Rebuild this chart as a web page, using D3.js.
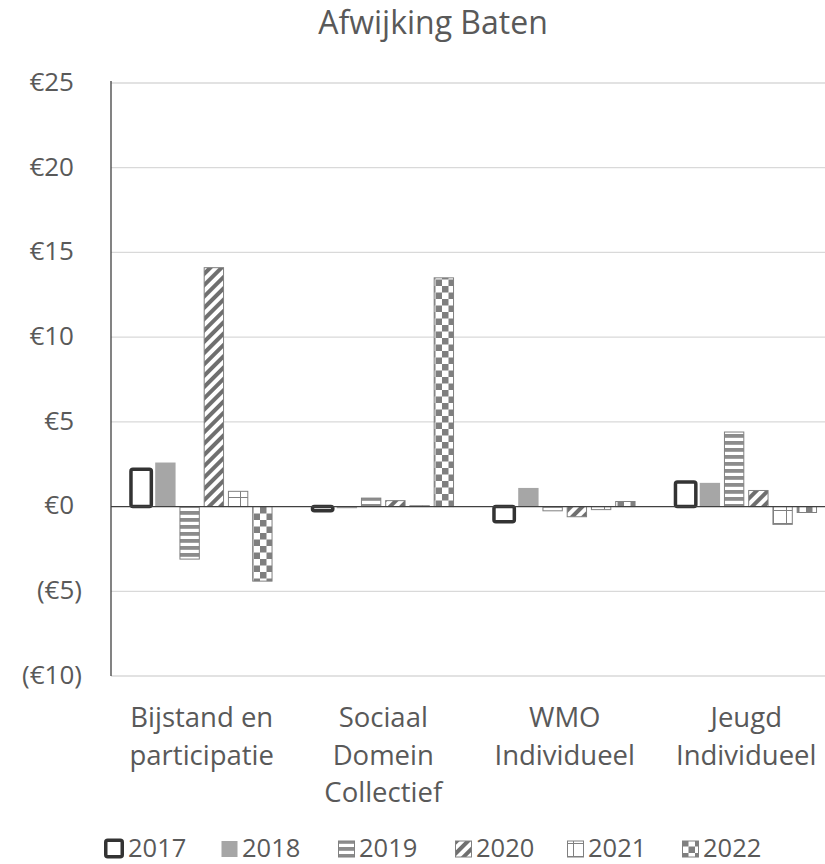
<!DOCTYPE html>
<html><head><meta charset="utf-8">
<script src="https://cdn.jsdelivr.net/npm/d3@7"></script>
<style>body{margin:0;background:#fff}svg{display:block;font-family:"Open Sans",sans-serif}</style>
</head><body>
<script>
const categories = [["Bijstand en","participatie"],["Sociaal","Domein","Collectief"],["WMO","Individueel"],["Jeugd","Individueel"]];
const series = ["2017","2018","2019","2020","2021","2022"];
const v2017 = [2.2, -0.25, -0.9, 1.45];
const v2018 = [2.6, -0.1, 1.1, 1.4];
const v2019 = [-3.1, 0.5, -0.25, 4.4];
const v2020 = [14.1, 0.35, -0.6, 0.95];
const v2021 = [0.9, 0.05, -0.18, -1.05];
const v2022 = [-4.4, 13.5, 0.3, -0.35];
const yTicks = [-10,-5,0,5,10,15,20,25];
const title = "Afwijking Baten";

(function(){
const values = [v2017,v2018,v2019,v2020,v2021,v2022];
const W=825,H=864;
const svg=d3.select("body").append("svg").attr("width",W).attr("height",H);
const defs=svg.append("defs");
let p=defs.append("pattern").attr("id","p2019").attr("patternUnits","userSpaceOnUse").attr("width",7).attr("height",7);
p.append("rect").attr("width",7).attr("height",7).attr("fill","#fff");
p.append("rect").attr("y",0).attr("width",7).attr("height",3.8).attr("fill","#8c8c8c");
p=defs.append("pattern").attr("id","p2020").attr("patternUnits","userSpaceOnUse").attr("width",8).attr("height",8).attr("patternTransform","rotate(45)");
p.append("rect").attr("width",8).attr("height",8).attr("fill","#fff");
p.append("rect").attr("x",0).attr("width",4).attr("height",8).attr("fill","#6f6f6f");
p=defs.append("pattern").attr("id","p2021").attr("patternUnits","userSpaceOnUse").attr("width",13).attr("height",13).attr("x",0).attr("y",3);
p.append("rect").attr("width",13).attr("height",13).attr("fill","#fff");
p.append("path").attr("d","M0,0.5H13M6.5,0V13").attr("stroke","#808080").attr("stroke-width",1);
p=defs.append("pattern").attr("id","p2022").attr("patternUnits","userSpaceOnUse").attr("width",13).attr("height",13);
p.append("rect").attr("width",13).attr("height",13).attr("fill","#fff");
p.append("rect").attr("width",6.5).attr("height",6.5).attr("fill","#7f7f7f");
p.append("rect").attr("x",6.5).attr("y",6.5).attr("width",6.5).attr("height",6.5).attr("fill","#7f7f7f");

const styles=[
 {fill:"#fff",stroke:"#333",sw:3.5,rx:2},
 {fill:"#a6a6a6",stroke:"none",sw:0,rx:0},
 {fill:"url(#p2019)",stroke:"#808080",sw:1,rx:0},
 {fill:"url(#p2020)",stroke:"#808080",sw:1,rx:0},
 {fill:"url(#p2021)",stroke:"#808080",sw:1,rx:0},
 {fill:"url(#p2022)",stroke:"#808080",sw:1,rx:0}
];

const pl=111,pr=837,pt=83,pb=676;
const y=d3.scaleLinear().domain([-10,25]).range([pb,pt]);
const x0=d3.scaleBand().domain(d3.range(categories.length)).range([pl,pr]).paddingInner(0.22).paddingOuter(0.11);
const x1=d3.scaleBand().domain(series).range([0,x0.bandwidth()]).paddingInner(0.16).paddingOuter(0);

svg.append("g").selectAll("line").data(yTicks.filter(t=>t!==0)).join("line")
 .attr("x1",pl).attr("x2",pr).attr("y1",d=>y(d)).attr("y2",d=>y(d)).attr("stroke","#d9d9d9").attr("stroke-width",1.3);

const fmt=d=>d<0?"(€"+(-d)+")":"€"+d;
svg.append("g").selectAll("text").data(yTicks).join("text")
 .attr("x",d=>d<0?82:74).attr("y",d=>y(d)).attr("dy","0.3em").attr("text-anchor","end")
 .attr("font-size",26).attr("fill","#595959").text(fmt);

series.forEach((s,i)=>{
 const st=styles[i];
 const inset = i===0?0:st.sw/2;
 svg.append("g").selectAll("rect").data(values[i]).join("rect")
  .attr("x",(d,j)=>x0(j)+x1(s)+inset)
  .attr("width",x1.bandwidth()-2*inset)
  .attr("y",d=>Math.min(y(d),y(0)))
  .attr("height",d=>Math.max(0.5,Math.abs(y(d)-y(0))))
  .attr("rx",st.rx)
  .attr("fill",st.fill).attr("stroke",st.stroke).attr("stroke-width",st.sw);
});

svg.append("line").attr("x1",pl).attr("x2",pl).attr("y1",pt-2).attr("y2",pb).attr("stroke","#404040").attr("stroke-width",1.3);
svg.append("line").attr("x1",pl).attr("x2",pr).attr("y1",y(0)).attr("y2",y(0)).attr("stroke","#404040").attr("stroke-width",1.3);

const cl=svg.append("g").selectAll("text").data(categories).join("text")
 .attr("text-anchor","middle").attr("font-size",27.5).attr("fill","#595959");
cl.each(function(d,j){
 d3.select(this).selectAll("tspan").data(d).join("tspan")
  .attr("x",x0(j)+x0.bandwidth()/2).attr("y",(t,k)=>727+k*37.5).text(t=>t);
});

svg.append("text").attr("x",433).attr("y",34).attr("text-anchor","middle").attr("font-size",32).attr("fill","#595959").text(title);

const lx=[104,221,338,455,567,682];
const lg=svg.append("g").selectAll("g").data(series).join("g").attr("transform",(d,i)=>`translate(${lx[i]},840)`);
lg.append("rect").attr("x",(d,i)=>i===0?1.75:0.5).attr("y",(d,i)=>i===0?0.25:1)
 .attr("width",(d,i)=>i===0?16.5:16).attr("height",(d,i)=>i===0?16.5:16)
 .attr("rx",(d,i)=>styles[i].rx)
 .attr("fill",(d,i)=>styles[i].fill).attr("stroke",(d,i)=>styles[i].stroke).attr("stroke-width",(d,i)=>styles[i].sw);
lg.append("text").attr("x",(d,i)=>i===0?24:21).attr("y",16.5).attr("font-size",25.5).attr("fill","#595959").text(d=>d);
})();
</script>
</body></html>
